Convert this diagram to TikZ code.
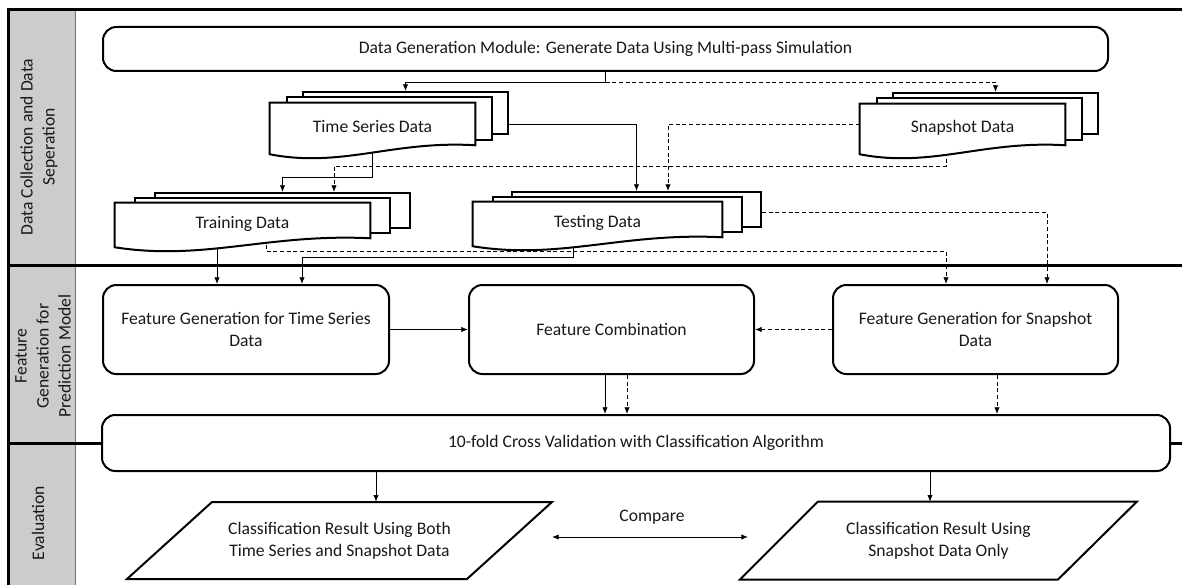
\documentclass[tikz,border=0pt]{standalone}
\usepackage{fontspec}
\setmainfont{Carlito}
\usetikzlibrary{arrows.meta,calc}
\pgfdeclarelayer{lanes}
\pgfdeclarelayer{conn}
\pgfdeclarelayer{shp}
\pgfsetlayers{lanes,conn,shp,main}
\tikzset{
  lanelab/.style={rotate=90, align=center, inner sep=0pt},
  rbox/.style={draw, line width=1.5pt, rounded corners=10pt, fill=white, align=center, inner sep=0pt},
  doctext/.style={inner sep=0pt, align=center},
  docbox/.style={draw, line width=1.5pt, fill=white, inner sep=0pt},
  docline/.style={draw, line width=1.5pt, fill=white, line join=miter},
  arr/.style={line width=0.6pt, -{Latex[length=5pt,width=4pt]}},
  dsh/.style={dash pattern=on 3pt off 2pt},
  para/.style={draw, line width=1.5pt, fill=white},
  ptext/.style={inner sep=0pt, align=center, minimum height=57.75pt},
  lane/.style={line width=2.25pt, line cap=rect},
}
% name, cx, cy, width, height, dx, dy, text
\newcommand\docstack[8]{%
  \node[doctext, minimum width=#4, minimum height=#5] (#1) at (#2,#3) {\raisebox{-6.3pt}[0pt][0pt]{#8}};
  \begin{pgfonlayer}{shp}
    \node[docbox, minimum width=#4, minimum height=#5] (#1C) at ($(#1)+(2*#6,-2*#7)$) {};
    \node[docbox, minimum width=#4, minimum height=#5] (#1B) at ($(#1)+(#6,-#7)$) {};
    \draw[docline] (#1.north west) -- (#1.north east) -- (#1.south east)
      .. controls ($(#1.south west)!0.6!(#1.south east)+(0,-5)$) and ($(#1.south west)!0.35!(#1.south east)+(0,23)$) .. ($(#1.south west)+(0,9)$) -- cycle;
  \end{pgfonlayer}
}
\begin{document}
\begin{tikzpicture}[x=0.75pt,y=-0.75pt, font=\fontsize{13.2}{16.5}\selectfont, text=black!90]
\useasboundingbox (0,0) rectangle (1182,585);

% ---------- lanes ----------
\begin{pgfonlayer}{lanes}
  \fill[black!20] (8,10) rectangle (75,585);
  \draw[line width=0.75pt, black!55] (75,10) -- (75,585);
  \draw[lane] (8,10) -- (1182,10);
  \draw[lane] (8,10) -- (8,585);
  \draw[lane] (8,265) -- (1182,265);
  \draw[lane] (8,443) -- (1182,443);
\end{pgfonlayer}
\node[lanelab] (lane1) at (39,147) {Data Collection and Data\\Seperation};
\node[lanelab] (lane2) at (43,356) {Feature\\Generation for\\Prediction Model};
\node[lanelab] (lane3) at (38,523) {Evaluation};

% ---------- lane 1 ----------
\node[rbox, minimum width=753.75pt, minimum height=33pt] (dgm) at (605.5,49)
  {Data Generation Module: Generate Data Using Multi-pass Simulation};

\docstack{tsd}{372.5}{124}{153.75pt}{31.5pt}{16.5}{5.5}{Time Series Data}
\docstack{snap}{962.5}{124.5}{153.75pt}{30.75pt}{16.5}{5.5}{Snapshot Data}
\docstack{train}{242.5}{220.5}{191.25pt}{26.25pt}{20}{5}{Training Data}
\docstack{test}{597.5}{219.5}{186.75pt}{26.25pt}{19.5}{5}{Testing Data}

% ---------- lane 2 ----------
\node[rbox, minimum width=214.5pt, minimum height=66.75pt] (fgts) at (246,329.5)
  {Feature Generation for Time Series\\Data};
\node[rbox, minimum width=213.75pt, minimum height=66.75pt] (fc) at (611.5,329.5)
  {Feature Combination};
\node[rbox, minimum width=213.75pt, minimum height=66.75pt] (fgsnap) at (975.5,329.5)
  {Feature Generation for Snapshot\\Data};
\node[rbox, minimum width=801pt, minimum height=42pt] (cv) at (636,443)
  {10-fold Cross Validation with Classification Algorithm};

% ---------- lane 3 ----------
\draw[para] (212,502) -- (552,502) -- (467,579) -- (127,579) -- cycle;
\node[ptext] (p1) at (339.5,540.5) {Classification Result Using Both\\Time Series and Snapshot Data};
\draw[para] (818,501.5) -- (1137,501.5) -- (1058,579.5) -- (740,579.5) -- cycle;
\node[ptext] (p2) at (938.5,540.5) {Classification Result Using\\Snapshot Data Only};
\node[inner sep=0pt] (cmp) at (652,517) {Compare};

% ---------- connectors ----------
\coordinate (j1) at (605.5,82);
\coordinate (j2) at (372.5,177);
\coordinate (j3) at (946,166);
\coordinate (j4) at (334,166);
\coordinate (j5) at (668,124.5);
\coordinate (j6) at (217,260);
\coordinate (j7) at (573,257);
\coordinate (j8) at (302,257);
\coordinate (j9) at (266,251);
\coordinate (j10) at (946,251);
\coordinate (j11) at (1047,212);
\coordinate (j12) at (605,395);
\coordinate (j13) at (627,395);
\coordinate (j14) at (997,395);
\coordinate (j15) at (376,485);
\coordinate (j16) at (930,485);
\coordinate (ca) at (552,537);
\coordinate (cb) at (748,537);

\begin{pgfonlayer}{conn}
  \draw[arr] (dgm.south) -- (j1) -| (tsdC.north);
  \draw[arr,dsh] (j1) -| (snapC.north);
  \draw[arr] (tsd.south) -- (j2) -| (trainC.north);
  \draw[arr,dsh] (snap.south -| j3) -- (j3) -- (j4) -- (j4 |- trainC.north);
  \draw[arr] (tsdC.east |- tsd.center) -| (testC.north);
  \draw[arr,dsh] (snap.west) -- (j5) -- (j5 |- testC.north);
  \draw[arr] (train.south -| j6) -- (fgts.north -| j6);
  \draw[arr] (test.south -| j7) -- (j7) -- (j8) -- (j8 |- fgts.north);
  \draw[arr,dsh] (train.south -| j9) -- (j9) -- (j10) -- (j10 |- fgsnap.north);
  \draw[arr,dsh] (testC.east |- j11) -- (j11) -- (j11 |- fgsnap.north);
  \draw[arr] (fgts) -- (fc);
  \draw[arr,dsh] (fgsnap) -- (fc);
  \draw[arr] (fc.south -| j12) -- (cv.north -| j12);
  \draw[arr,dsh] (fc.south -| j13) -- (cv.north -| j13);
  \draw[arr,dsh] (fgsnap.south -| j14) -- (cv.north -| j14);
  \draw[arr] (cv.south -| j15) -- (p1.north -| j15);
  \draw[arr] (cv.south -| j16) -- (p2.north -| j16);
  \draw[line width=0.6pt, {Latex[length=5pt,width=4pt]}-{Latex[length=5pt,width=4pt]}] (ca) -- (cb);
\end{pgfonlayer}
\end{tikzpicture}
\end{document}
